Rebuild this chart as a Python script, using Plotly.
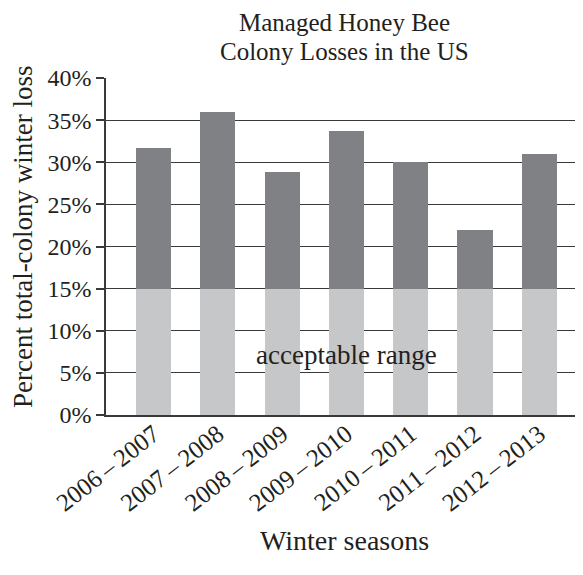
import plotly.graph_objects as go

seasons = ["2006\u2009\u2013\u20092007", "2007\u2009\u2013\u20092008", "2008\u2009\u2013\u20092009",
           "2009\u2009\u2013\u20092010", "2010\u2009\u2013\u20092011", "2011\u2009\u2013\u20092012",
           "2012\u2009\u2013\u20092013"]
losses = [31.7, 36.0, 28.9, 33.7, 30.0, 22.0, 31.0]
acceptable = 15.0
y_ticks = [0, 5, 10, 15, 20, 25, 30, 35, 40]
y_labels = [f"{v}%" for v in y_ticks]
title_lines = ["Managed Honey Bee", "Colony Losses in the US"]

FONT = "Liberation Serif"
TXT = "#231f20"

xs = list(range(len(seasons)))
fig = go.Figure()
fig.add_trace(go.Bar(x=xs, y=[acceptable] * len(seasons), marker_color="#c6c7c9",
                     marker_line_width=0, width=0.545, showlegend=False))
fig.add_trace(go.Bar(x=xs, y=[v - acceptable for v in losses], marker_color="#808184",
                     marker_line_width=0, width=0.545, showlegend=False))

fig.update_layout(
    barmode="stack",
    width=575, height=567,
    margin=dict(l=98, r=0, t=70, b=160),
    paper_bgcolor="white", plot_bgcolor="white",
    font=dict(family=FONT, color=TXT, size=24),
    xaxis=dict(range=[-0.74, 6.68], tickmode="array", tickvals=xs, ticktext=seasons,
               tickangle=-38, showline=True, linecolor="#3a3a3a", linewidth=1.5,
               ticks="", showgrid=False, zeroline=False, ticklabelstandoff=-7,
               tickfont=dict(family=FONT, size=25, color=TXT)),
    yaxis=dict(range=[0, 40], tickmode="array", tickvals=y_ticks, ticktext=y_labels,
               showline=True, linecolor="#3a3a3a", linewidth=1.5,
               ticks="outside", ticklen=8, tickcolor="#3a3a3a", tickwidth=1.5,
               showgrid=True, gridcolor="#3a3a3a", gridwidth=1.3, zeroline=False,
               tickfont=dict(family=FONT, size=24, color=TXT)),
    annotations=[
        dict(text=title_lines[0], xref="paper", yref="paper",
             x=0.5, y=1.1647, xanchor="center", yanchor="middle", showarrow=False,
             font=dict(family=FONT, size=25, color=TXT)),
        dict(text=title_lines[1], xref="paper", yref="paper",
             x=0.5, y=1.0801, xanchor="center", yanchor="middle", showarrow=False,
             font=dict(family=FONT, size=25, color=TXT)),
        dict(text="Percent total-colony winter loss", xref="paper", yref="paper",
             x=-0.174, y=0.528, xanchor="center", yanchor="middle", textangle=-90,
             showarrow=False, font=dict(family=FONT, size=27, color=TXT)),
        dict(text="Winter seasons", xref="paper", yref="paper",
             x=0.5, y=-0.371, xanchor="center", yanchor="middle", showarrow=False,
             font=dict(family=FONT, size=28, color=TXT)),
        dict(text="acceptable range", xref="x", yref="y", x=3, y=7.1,
             xanchor="center", yanchor="middle", showarrow=False,
             font=dict(family=FONT, size=27, color=TXT)),
    ],
)

fig.write_html("out.html")
